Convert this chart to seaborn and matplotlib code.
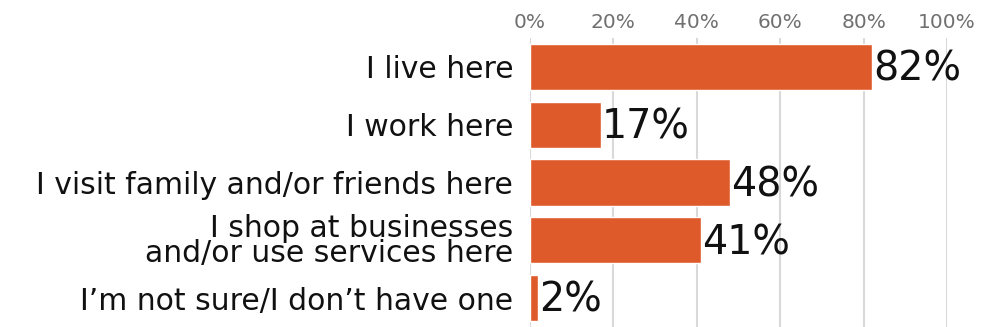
import matplotlib
matplotlib.use("Agg")
import matplotlib.pyplot as plt
import seaborn as sns
import pandas as pd

categories = [
    "I live here",
    "I work here",
    "I visit family and/or friends here",
    "I shop at businesses\nand/or use services here",
    "I\u2019m not sure/I don\u2019t have one",
]
values = [82, 17, 48, 41, 2]
tick_values = [0, 20, 40, 60, 80, 100]
tick_labels = [f"{t}%" for t in tick_values]

df = pd.DataFrame({"category": categories, "value": values})

sns.set_theme(style="white")
plt.rcParams["font.family"] = ["DejaVu Sans"]

fig = plt.figure(figsize=(9.81, 3.27), dpi=100)
ax = fig.add_axes([530 / 981, 0.0, 417 / 981, 1 - 38 / 327])

sns.barplot(data=df, x="value", y="category", color="#DF5A2B", saturation=1,
            width=0.8, ax=ax, zorder=2)

ax.set_xlim(0, 100)
ax.set_xticks(tick_values)
ax.set_xticklabels(tick_labels)
ax.xaxis.tick_top()
ax.tick_params(axis="x", length=0, labelsize=14.5, labelcolor="#707070", pad=4)
ax.tick_params(axis="y", length=0, labelsize=21.5, labelcolor="#111111", pad=12)
for lbl in ax.get_yticklabels():
    lbl.set_linespacing(0.8)
    lbl.set_va("center_baseline")
ax.set_xlabel("")
ax.set_ylabel("")
ax.grid(axis="x", color="#D9D9D9", linewidth=1.5, zorder=0)
ax.set_axisbelow(True)
for s in ax.spines.values():
    s.set_visible(False)

for i, v in enumerate(values):
    ax.text(v + 0.2, i + 0.05, f"{v}%", va="center", ha="left", fontsize=28.5, color="#111111")

fig.savefig("out.png", dpi=100)
